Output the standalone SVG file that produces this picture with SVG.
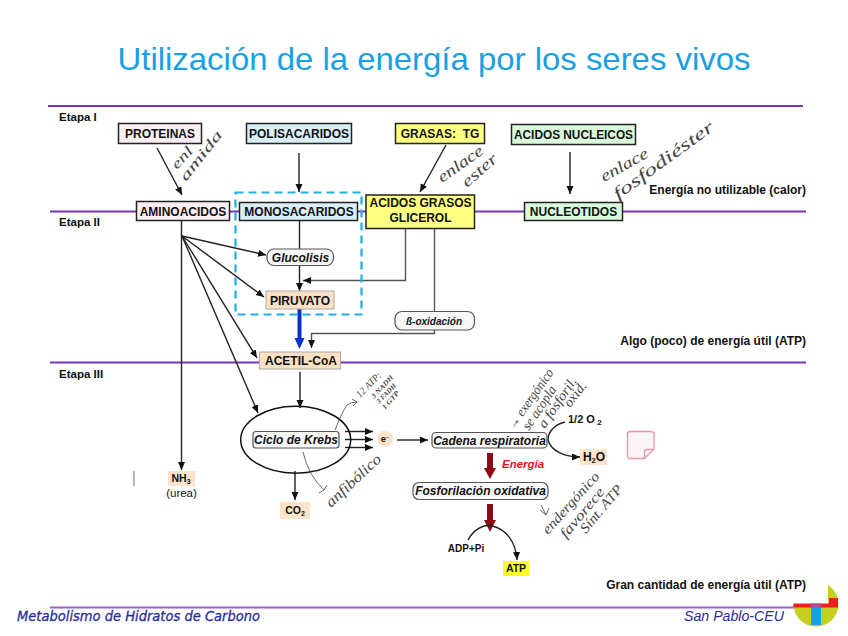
<svg xmlns="http://www.w3.org/2000/svg" width="848" height="636" viewBox="0 0 848 636">
<style>
text{font-family:"Liberation Sans",Arial,sans-serif;fill:#111}
.b{font-weight:bold;font-size:12px;text-anchor:middle}
.l{font-weight:bold;font-size:11.500px}
.r{font-weight:bold;font-size:12px;text-anchor:end}
.i{font-weight:bold;font-style:italic;font-size:12px;text-anchor:middle}
.box{stroke:#222;stroke-width:1.5}
.box2{stroke:#aaa;stroke-width:1}
.pill{fill:#f8f8f8;stroke:#555;stroke-width:1.2}
.pu{stroke:#7a35b5;stroke-width:1.8;fill:none}
.c{stroke:#222;stroke-width:1.4;fill:none}
.g{stroke:#555;stroke-width:1.4;fill:none}
.a{marker-end:url(#ah)}
.h{font-family:"Liberation Serif",serif;font-style:italic;font-size:14px;fill:#444}
.hl{stroke:#444;stroke-width:.8;fill:none}
</style>
<defs>
<marker id="ah" markerUnits="userSpaceOnUse" markerWidth="9" markerHeight="8" refX="8" refY="3.5" orient="auto"><path d="M0 0L8 3.5L0 7z" fill="#111"/></marker>
</defs>
<rect width="848" height="636" fill="#fff"/>
<text x="434" y="70" text-anchor="middle" font-size="32" textLength="633" lengthAdjust="spacingAndGlyphs" style="fill:#1a9fe3">Utilización de la energía por los seres vivos</text>
<g id="lines">
<path class="pu" d="M48 106H803M50 211.500H806M50 362.500H806"/>
<path d="M50 607.500H806" stroke="#9a62c4" stroke-width="2"/>
</g>
<g id="labels">
<text class="l" x="59" y="121">Etapa I</text>
<text class="l" x="59" y="226">Etapa II</text>
<text class="l" x="59" y="378">Etapa III</text>
<text class="r" x="806" y="194">Energía no utilizable (calor)</text>
<text class="r" x="806" y="345">Algo (poco) de energía útil (ATP)</text>
<text class="r" x="806" y="589">Gran cantidad de energía útil (ATP)</text>
</g>
<g id="connectors">
<path class="c a" d="M157 148L182 195"/>
<path class="c a" d="M299 153V192"/>
<path class="c a" d="M446 145L420 192"/>
<path class="c a" d="M570 152V194"/>
<path class="c a" d="M181.500 220V470"/>
<path class="c a" d="M182 236L266 255"/>
<path class="c a" d="M182 236L264 297"/>
<path class="c a" d="M182 236L257 358"/>
<path class="c a" d="M182 236L258 413"/>
<path class="c a" d="M299.500 221V291"/>
<path class="g a" d="M405.500 229V280.500H303"/>
<path class="g" d="M434.500 229V311"/>
<path class="g a" d="M434.500 330V333.500H311.500V348"/>
<path d="M299.500 309V340" stroke="#0a2fd0" stroke-width="4" fill="none"/>
<path d="M294.500 338H304.500L299.500 349z" fill="#0a2fd0"/>
<path class="c a" d="M300 372V408"/>
<path class="c a" d="M295 471V500"/>
<path class="c a" d="M345 431.500H373"/>
<path class="c a" d="M345 439.500H373"/>
<path class="c a" d="M345 447.500H373"/>
<path class="c a" d="M397 440H428"/>
<path d="M490 453V469" stroke="#8b0a14" stroke-width="6" fill="none"/>
<path d="M484 468H496L490 479z" fill="#8b0a14"/>
<path d="M490 504V521" stroke="#8b0a14" stroke-width="6" fill="none"/>
<path d="M484 520H496L490 532z" fill="#8b0a14"/>
<path class="c" d="M468 540C476 525 488 525 492 526"/>
<path class="c a" d="M492 526C506 529 516 542 517 560"/>
<path class="c" d="M565 422C553 425 548 433 548 440"/>
<path class="c a" d="M548 440C551 451 565 457 580 457"/>
</g>
<path id="dash" d="M235.500 192.500H361.500V314.500H235.500z" fill="none" stroke="#1bb0ea" stroke-width="2.200" stroke-dasharray="8 5"/>
<g id="proteinas"><rect class="box" x="118.500" y="123.500" width="83" height="20" fill="#fdeef4"/><text class="b" x="160" y="138">PROTEINAS</text></g>
<g id="polisacaridos"><rect class="box" x="246.500" y="123.500" width="105" height="20" fill="#d9effa"/><text class="b" x="299" y="138">POLISACARIDOS</text></g>
<g id="grasas"><rect class="box" x="395.500" y="123.500" width="89" height="20" fill="#ffff80"/><text class="b" x="440" y="138" xml:space="preserve">GRASAS:  TG</text></g>
<g id="acidos-nucleicos"><rect class="box" x="511.500" y="124.500" width="124" height="20" fill="#d9fbdc"/><text class="b" x="573.500" y="139" textLength="119" lengthAdjust="spacingAndGlyphs">ACIDOS NUCLEICOS</text></g>
<g id="aminoacidos"><rect class="box" x="136.500" y="201.500" width="93" height="19" fill="#fdeef4"/><text class="b" x="183" y="215.500">AMINOACIDOS</text></g>
<g id="monosacaridos"><rect class="box" x="239.500" y="202.500" width="118" height="18" fill="#d9effa"/><text class="b" x="299" y="215.500">MONOSACARIDOS</text></g>
<g id="acidos-grasos"><rect class="box" x="366" y="195" width="108.500" height="33.500" fill="#ffff80"/><text class="b" x="420.500" y="207">ACIDOS GRASOS</text><text class="b" x="420.500" y="222">GLICEROL</text></g>
<g id="nucleotidos"><rect class="box" x="524.500" y="202.500" width="98" height="18" fill="#d9fbdc"/><text class="b" x="573.500" y="216">NUCLEOTIDOS</text></g>
<g id="glucolisis"><rect class="pill" x="267" y="249" width="66.500" height="16.500" rx="7"/><text class="i" x="300.500" y="261.500">Glucolisis</text></g>
<g id="piruvato"><rect class="box2" x="266" y="291" width="68" height="18" fill="#fce0c4"/><text class="b" x="300" y="304.500">PIRUVATO</text></g>
<g id="beta-oxidacion"><rect class="pill" x="395" y="311.500" width="79.500" height="18.500" rx="7"/><text class="i" x="434" y="324.500" style="font-size:10px">ß-oxidación</text></g>
<g id="acetil-coa"><rect class="box2" x="259.500" y="352" width="81" height="17" fill="#fce0c4"/><text class="b" x="301" y="365">ACETIL-CoA</text></g>
<g id="krebs"><ellipse cx="295.700" cy="439.700" rx="55" ry="33.500" fill="none" stroke="#111" stroke-width="1.500"/><rect class="pill" x="253" y="431.500" width="86" height="16.500" rx="3"/><text class="i" x="296" y="444">Ciclo de Krebs</text></g>
<g id="nh3"><rect x="168" y="471" width="27" height="15" fill="#fde3ca"/><text class="b" x="181" y="482" style="font-size:10.500px">NH<tspan font-size="7" dy="2">3</tspan></text><text class="b" x="181.500" y="497" style="font-size:11.500px;font-weight:normal">(urea)</text></g>
<path id="tick" d="M134 471V486" stroke="#888" stroke-width="1.200"/>
<g id="co2"><rect x="280" y="502" width="30" height="17" fill="#fde3ca"/><text class="b" x="295" y="514" style="font-size:10.500px">CO<tspan font-size="7" dy="2">2</tspan></text></g>
<g id="electron"><circle cx="385" cy="438.700" r="8" fill="#fde3ca"/><text class="b" x="384.500" y="442" style="font-size:9.500px">e<tspan font-size="6" dy="-3">-</tspan></text></g>
<g id="cadena"><rect class="pill" x="432" y="432.500" width="115" height="15.500" rx="4"/><text class="i" x="489.500" y="445">Cadena respiratoria</text></g>
<text id="energia" x="502" y="468" font-size="11.500" font-weight="bold" font-style="italic" style="fill:#f01020">Energía</text>
<g id="fosforilacion"><rect class="pill" x="413" y="482.500" width="135" height="17" rx="6"/><text class="i" x="480.500" y="495">Fosforilación oxidativa</text></g>
<g id="o2"><text class="l" x="568" y="423" style="font-size:11px">1/2 O<tspan font-size="8" dy="2"> 2</tspan></text></g>
<g id="h2o"><rect x="580" y="449" width="27" height="16" fill="#fde3ca"/><text class="b" x="594" y="461">H<tspan font-size="7.500" dy="2">2</tspan><tspan dy="-2">O</tspan></text></g>
<text id="adp" x="466" y="552" text-anchor="middle" font-size="10" font-weight="bold">ADP+Pi</text>
<g id="atp"><rect x="503" y="561" width="26" height="15" fill="#ffff20"/><text class="b" x="516" y="572" style="font-size:10.500px">ATP</text></g>
<g id="note"><path d="M630 431.500H651Q654 431.500 654 434.500V449L644.500 458.500H630Q627.500 458.500 627.500 456V434Q627.500 431.500 630 431.500Z" fill="#fdf6f8" stroke="#eb98a2" stroke-width="1.300"/><path d="M644.500 458.500V452Q644.500 449.500 647 449.500H654" fill="none" stroke="#eb98a2" stroke-width="1.300"/></g>
<g id="handwriting">
<text class="h" transform="translate(177,170) rotate(-48)" textLength="25" lengthAdjust="spacingAndGlyphs">enl</text>
<text class="h" transform="translate(186,182) rotate(-52)" textLength="60" lengthAdjust="spacingAndGlyphs">amida</text>
<text class="h" transform="translate(442,183) rotate(-35)" textLength="52" lengthAdjust="spacingAndGlyphs" style="font-size:16px">enlace</text>
<text class="h" transform="translate(467,188) rotate(-41)" textLength="42" lengthAdjust="spacingAndGlyphs" style="font-size:16px">ester</text>
<text class="h" transform="translate(604,182) rotate(-29)" textLength="52" lengthAdjust="spacingAndGlyphs" style="font-size:16px">enlace</text>
<text class="h" transform="translate(618,200) rotate(-36)" textLength="120" lengthAdjust="spacingAndGlyphs" style="font-size:17px">fosfodiéster</text>
<text class="h" transform="translate(360,398) rotate(-45)" textLength="31" lengthAdjust="spacingAndGlyphs" style="font-size:10px">12 ATP:</text>
<text class="h" transform="translate(374,399) rotate(-47)" textLength="29" lengthAdjust="spacingAndGlyphs" style="font-size:7px;font-weight:bold">3 NADH</text>
<text class="h" transform="translate(379,404) rotate(-45)" textLength="25" lengthAdjust="spacingAndGlyphs" style="font-size:7px;font-weight:bold">3 FADH</text>
<text class="h" transform="translate(385,410) rotate(-49)" textLength="22" lengthAdjust="spacingAndGlyphs" style="font-size:7px;font-weight:bold">1 GTP</text>
<text class="h" transform="translate(331,508) rotate(-43)" textLength="70" lengthAdjust="spacingAndGlyphs" style="font-size:15px">anfibólico</text>
<text class="h" transform="translate(514,430) rotate(-55)" textLength="70" lengthAdjust="spacingAndGlyphs">→ exergónico</text>
<text class="h" transform="translate(529,431) rotate(-56)" textLength="50" lengthAdjust="spacingAndGlyphs">se acopla</text>
<text class="h" transform="translate(545,429) rotate(-56)" textLength="58" lengthAdjust="spacingAndGlyphs">a fosforil.</text>
<text class="h" transform="translate(570,408) rotate(-52)" textLength="28" lengthAdjust="spacingAndGlyphs">oxid.</text>
<text class="h" transform="translate(548,535) rotate(-48)" textLength="78" lengthAdjust="spacingAndGlyphs">endergónico</text>
<text class="h" transform="translate(566,539) rotate(-50)" textLength="61" lengthAdjust="spacingAndGlyphs">favorece</text>
<text class="h" transform="translate(586,534) rotate(-50)" textLength="58" lengthAdjust="spacingAndGlyphs">Sínt. ATP</text>
<path class="hl" d="M335 430Q342 412 347 405Q351 402 357 402M352 399L357 402L353 406"/>
<path class="hl" d="M303 452Q308 475 324 490M319 493L324 490L327 485"/>
<path class="hl" d="M541 505L546 515M540 510L546 515L549 508"/>
</g>
<g id="logo">
<path d="M828 585A22.500 22.500 0 1 1 793.500 604H828z" fill="#c4cf22"/>
<path d="M793.500 603.500H829V598H838V607.500H793.500z" fill="#ee1c25"/>
<rect x="811" y="607" width="10" height="18" fill="#12a5e4"/>
<rect x="811" y="603.500" width="10" height="4" fill="#a8509a"/>
</g>
<text id="footer-left" x="17" y="621" font-size="13.500" font-style="italic" textLength="243" lengthAdjust="spacingAndGlyphs" style="font-family:'DejaVu Sans',sans-serif;fill:#2b2b9c;stroke:#2b2b9c;stroke-width:.3">Metabolismo de Hidratos de Carbono</text>
<text id="footer-right" x="684" y="621" font-size="14" font-style="italic" textLength="100" lengthAdjust="spacingAndGlyphs" style="fill:#2b2b9c">San Pablo-CEU</text>
</svg>
